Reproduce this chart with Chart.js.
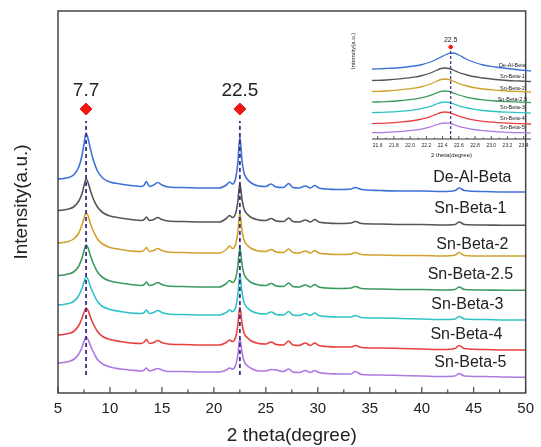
<!DOCTYPE html>
<html>
<head>
<meta charset="utf-8">
<script src="https://cdn.jsdelivr.net/npm/chart.js@4.4.1/dist/chart.umd.min.js"></script>
<style>
body { margin: 0; background: #fff; }
#wrap { position: relative; width: 541px; height: 447px; }
#chart { position: absolute; left: 0; top: 0; }
#inset { position: absolute; left: 340px; top: 0; }
</style>
</head>
<body>
<div id="wrap">
  <canvas id="chart" width="541" height="447"></canvas>
  <canvas id="inset" width="201" height="165"></canvas>
</div>
<script>
// 2 theta positions (degree)
const theta = [5, 5.5, 6, 6.5, 7, 7.3, 7.5, 7.7, 7.9, 8.1, 8.4, 8.8, 9.3, 10, 11, 12, 13, 13.3, 13.5, 13.8,
  14.2, 14.6, 15, 15.6, 17, 19, 20.5, 21.2, 21.5, 21.8, 22.1, 22.3, 22.5, 22.7, 22.9, 23.2, 23.6, 24.3, 25, 25.5,
  26, 26.7, 27.2, 27.6, 28.2, 28.8, 29.3, 29.7, 30.1, 30.8, 32, 33.2, 33.6, 34.2, 36, 38, 40, 42, 43.2, 43.6,
  44.1, 46, 48, 50];

// stacked intensities (a.u.)
const deAlBeta = [214, 214.5, 215.5, 218, 226, 237, 249, 260, 254, 245, 233, 222, 215, 211, 209, 207.5, 206.5, 208, 211.5, 206.5,
  208, 210.5, 208, 206, 205.5, 205, 205, 208, 211, 209, 215, 230, 256, 233, 220, 214, 210, 207, 206.5, 209,
  206, 205.5, 209.5, 205.5, 205, 207, 205, 207.5, 205, 204, 203.5, 204, 205.5, 203.5, 202.5, 202, 202, 201.5, 202.5, 205,
  202.5, 201.5, 201, 201];
const snBeta1 = [182.5, 183, 184, 186, 192, 199, 207, 214, 210, 203, 194, 186, 180.5, 177, 175, 173.5, 172.5, 173.5, 176, 172.5,
  173.5, 175.5, 173.5, 172, 171.5, 171, 171, 174.5, 177.5, 175.5, 180, 191, 210, 194, 184, 179, 175.5, 173, 172.5, 174.5,
  172, 171.5, 175, 171.5, 171, 173, 171, 173.5, 171, 170, 169.5, 170, 171.5, 169.5, 169, 168.5, 168.5, 168, 168.5, 171,
  168.5, 168, 167.7, 167.7];
const snBeta2 = [150, 150.5, 151.5, 154, 160, 168, 174.5, 180, 177, 170, 162, 154, 149, 145.5, 143.5, 142, 141.5, 143, 145.5, 141.5,
  142.5, 144.5, 142.5, 141, 140.5, 140, 140, 143.5, 147, 144.5, 149, 161, 180, 163, 153, 148, 144.5, 142, 141.5, 143.5,
  141, 140.5, 144, 140.5, 140, 142, 140, 142.5, 140, 139, 138.5, 139, 140.5, 138.5, 138, 137.5, 137.5, 137, 138, 140.5,
  137.5, 137, 137, 137];
const snBeta25 = [117.5, 118, 119, 121, 127, 134.5, 142, 148, 145, 138, 129.5, 121, 115.5, 112, 110, 108.5, 107.5, 108.5, 111, 107.5,
  108.5, 110.5, 108.5, 107, 106.5, 106, 106, 109.5, 112.5, 110.5, 115, 126.5, 146, 129, 119, 114, 110.5, 108, 107.5, 109.5,
  107, 106.5, 110, 106.5, 106, 108, 106, 108.5, 106, 105, 104.5, 105, 106.5, 104.5, 104, 103.5, 103.5, 103, 103.5, 106,
  103.5, 103, 102.7, 102.7];
const snBeta3 = [88, 88.5, 89.5, 91.5, 97.5, 104.5, 111, 116, 113.5, 107, 99.5, 91.5, 86.5, 83.5, 81.5, 80, 79.5, 80.5, 83, 79.5,
  80.5, 82.5, 80.5, 79, 78.5, 78, 78, 80.5, 83, 81.5, 86, 98, 118, 101, 90.5, 85.5, 82, 79.5, 79, 81,
  78.5, 78, 81.5, 78, 77.5, 79.5, 77.5, 80, 77.5, 76.5, 76, 76, 77.5, 75.5, 75, 74.5, 74, 73.5, 74, 76.5,
  74, 73.5, 73, 73];
const snBeta4 = [58, 58.5, 59.5, 61.5, 67.5, 74.5, 80.5, 85, 82.5, 76.5, 69, 61.5, 56.5, 53.5, 51.5, 50, 49.5, 51, 53.5, 49.5,
  50.5, 52.5, 50.5, 49, 48.5, 48, 48, 50.5, 53, 51.5, 56, 67.5, 86, 70, 60, 55.5, 52, 49.5, 49, 51,
  48.5, 48, 52, 48, 47.5, 50, 47.5, 50, 47.5, 46.5, 46, 46, 47.5, 45.5, 45, 44.5, 44, 43.5, 44.5, 47.5,
  44.5, 43.5, 43, 43];
const snBeta5 = [30, 30.5, 31.5, 33.5, 39, 45.5, 51.5, 56, 53.5, 48, 41, 33.5, 29, 26, 24, 23, 22, 23, 25, 22,
  23, 24.5, 23, 21.5, 21.5, 21, 21, 23, 25, 24, 28, 38, 55, 41, 32, 27.5, 24.5, 22, 22, 23.5,
  23, 21.5, 24, 21, 20.5, 22.5, 20.5, 22.5, 20.5, 19.5, 19, 19, 21.5, 18.5, 18, 17.5, 17, 16.5, 17, 19.5,
  17, 16.5, 16, 15.7];

const sampleNames = ['De-Al-Beta', 'Sn-Beta-1', 'Sn-Beta-2', 'Sn-Beta-2.5', 'Sn-Beta-3', 'Sn-Beta-4', 'Sn-Beta-5'];
const series = [deAlBeta, snBeta1, snBeta2, snBeta25, snBeta3, snBeta4, snBeta5];
const colors = ['#3f72d9', '#555555', '#cfa22e', '#3b9b5e', '#2fc3c8', '#e8403f', '#ad78df'];

const peakPositions = [7.7, 22.5];

// inset: zoom around the 22.5 reflection
const insetTheta = [21.53, 21.7, 21.9, 22.05, 22.15, 22.25, 22.32, 22.38, 22.43, 22.48, 22.53, 22.6, 22.68, 22.78, 22.9, 23.05, 23.2, 23.35, 23.49];
const insetDeAlBeta = [70, 70.5, 71.5, 73, 74.5, 77, 79.5, 82, 84, 85.7, 86, 84, 80.5, 77, 74, 72, 70.5, 69, 68];
const insetSnBeta1 = [58.5, 59, 60.3, 61.8, 63.5, 66, 68.5, 70.5, 71, 70.5, 69, 66.5, 64.5, 62.5, 61, 59.5, 58.5, 58, 57.5];
const insetSnBeta2 = [47.5, 48, 49.3, 50.8, 52.5, 55, 57.5, 59.5, 60, 59.5, 58, 55.5, 53.5, 51.5, 50, 48.8, 48, 47.5, 47];
const insetSnBeta25 = [36.9, 37.3, 38.5, 39.8, 41.3, 43.6, 45.8, 47.6, 48, 47.6, 46.2, 44, 42.2, 40.5, 39.1, 38, 37.3, 36.9, 36.4];
const insetSnBeta3 = [26.4, 26.8, 27.9, 29.2, 30.6, 32.7, 34.9, 36.5, 37, 36.5, 35.3, 33.2, 31.5, 29.8, 28.5, 27.5, 26.8, 26.4, 25.9];
const insetSnBeta4 = [15.4, 15.9, 17.1, 18.5, 20.1, 22.4, 24.7, 26.5, 27, 26.5, 25.1, 22.8, 21, 19.1, 17.7, 16.6, 15.9, 15.4, 15];
const insetSnBeta5 = [6.3, 6.7, 7.7, 8.9, 10.2, 12.1, 14.1, 15.6, 16, 15.8, 14.7, 12.7, 11.1, 9.5, 8.3, 7.3, 6.7, 6.3, 5.9];
const insetSeries = [insetDeAlBeta, insetSnBeta1, insetSnBeta2, insetSnBeta25, insetSnBeta3, insetSnBeta4, insetSnBeta5];
const insetTicks = [21.6, 21.8, 22.0, 22.2, 22.4, 22.6, 22.8, 23.0, 23.2, 23.4];

Chart.defaults.font.family = "'Liberation Sans', Arial, sans-serif";
Chart.defaults.color = '#222';

// box + inward ticks
function axisBox(o) {
  return {
    id: 'axisBox',
    afterDraw(c) {
      const { ctx, chartArea: a, scales: { x } } = c;
      ctx.save();
      ctx.strokeStyle = o.color;
      ctx.lineWidth = o.width;
      if (o.box) {
        ctx.strokeRect(a.left, a.top, a.right - a.left, a.bottom - a.top);
      } else {
        ctx.beginPath(); ctx.moveTo(a.left, a.bottom); ctx.lineTo(a.right, a.bottom); ctx.stroke();
      }
      ctx.lineWidth = o.tickWidth;
      for (let i = 0; o.start + i * o.minor <= o.end + 1e-9; i++) {
        const px = x.getPixelForValue(o.start + i * o.minor);
        const len = i % 2 === 0 ? o.majorLen : o.minorLen;
        ctx.beginPath(); ctx.moveTo(px, a.bottom); ctx.lineTo(px, a.bottom - len); ctx.stroke();
      }
      ctx.restore();
    }
  };
}

// text placed in data coordinates
function notes(items) {
  return {
    id: 'notes',
    afterDatasetsDraw(c) {
      const { ctx, scales: { x, y } } = c;
      ctx.save();
      ctx.textAlign = 'center';
      ctx.textBaseline = 'middle';
      items.forEach(t => {
        ctx.font = t.font;
        ctx.fillStyle = t.color || '#222';
        const px = x.getPixelForValue(t.x), py = y.getPixelForValue(t.y);
        if (t.rotate) {
          ctx.save(); ctx.translate(px, py); ctx.rotate(-Math.PI / 2); ctx.fillText(t.text, 0, 0); ctx.restore();
        } else {
          ctx.fillText(t.text, px, py);
        }
      });
      ctx.restore();
    }
  };
}

const mainLabels = [
  { text: 'De-Al-Beta', x: 44.87, y: 215 },
  { text: 'Sn-Beta-1', x: 44.68, y: 184 },
  { text: 'Sn-Beta-2', x: 44.87, y: 148 },
  { text: 'Sn-Beta-2.5', x: 44.68, y: 118 },
  { text: 'Sn-Beta-3', x: 44.39, y: 88 },
  { text: 'Sn-Beta-4', x: 44.3, y: 58 },
  { text: 'Sn-Beta-5', x: 44.68, y: 30 },
].map(t => ({ ...t, font: '16px "Liberation Sans", Arial' }))
  .concat(peakPositions.map(p => ({ text: String(p), x: p, y: 302, font: '19px "Liberation Sans", Arial' })));

new Chart(document.getElementById('chart'), {
  type: 'line',
  data: {
    datasets: series.map((vals, i) => ({
      label: sampleNames[i],
      data: theta.map((t, j) => ({ x: t, y: vals[j] })),
      borderColor: colors[i],
      borderWidth: 1.6,
      pointRadius: 0,
      cubicInterpolationMode: 'monotone',
      order: 2
    })).concat(peakPositions.map(p => ({
      data: [{ x: p, y: 18 }, { x: p, y: 272 }],
      borderColor: '#3d2e80',
      borderDash: [4, 3],
      borderWidth: 1.8,
      pointRadius: 0,
      order: 1
    })), [{
      data: peakPositions.map(p => ({ x: p, y: 284 })),
      showLine: false,
      pointStyle: 'rectRot',
      pointRadius: 6,
      backgroundColor: '#f01515',
      borderColor: '#f01515',
      order: 0
    }])
  },
  options: {
    responsive: false,
    animation: false,
    devicePixelRatio: 1,
    layout: { padding: { top: 11, right: 10, left: 0, bottom: 0 } },
    plugins: { legend: { display: false }, tooltip: { enabled: false } },
    scales: {
      x: {
        type: 'linear', min: 5, max: 50,
        ticks: { stepSize: 5, font: { size: 15 }, padding: 7 },
        grid: { display: false, drawTicks: false },
        border: { display: false },
        title: { display: true, text: '2 theta(degree)', font: { size: 19 }, padding: { top: 0, bottom: 0 } },
        afterFit: s => { s.height = 54; }
      },
      y: {
        min: 0, max: 382,
        ticks: { display: false },
        grid: { display: false, drawTicks: false },
        border: { display: false },
        title: { display: true, text: 'Intensity(a.u.)', font: { size: 19 }, padding: { top: 10, bottom: 0 } },
        afterFit: s => { s.width = 58; }
      }
    }
  },
  plugins: [
    axisBox({ box: true, color: '#444', width: 1.5, tickWidth: 1.2, start: 5, end: 50, minor: 2.5, majorLen: 6, minorLen: 3.5 }),
    notes(mainLabels)
  ]
});

const insetLabels = sampleNames.map((n, i) => ({
  text: n, x: 23.26, y: [74, 63, 51, 40, 32, 21, 12][i], font: '5.5px "Liberation Sans", Arial'
})).concat([
  { text: '22.5', x: 22.5, y: 99, font: '7px "Liberation Sans", Arial' },
  { text: 'Intensity(a.u.)', x: 21.3, y: 88, font: '6px "Liberation Sans", Arial', rotate: true }
]);

new Chart(document.getElementById('inset'), {
  type: 'line',
  data: {
    datasets: insetSeries.map((vals, i) => ({
      data: insetTheta.map((t, j) => ({ x: t, y: vals[j] })),
      borderColor: colors[i],
      borderWidth: 1.3,
      pointRadius: 0,
      cubicInterpolationMode: 'monotone',
      order: 2
    })).concat([{
      data: [{ x: 22.5, y: 0 }, { x: 22.5, y: 89 }],
      borderColor: '#3d2e80',
      borderDash: [3, 2],
      borderWidth: 1.2,
      pointRadius: 0,
      order: 1
    }, {
      data: [{ x: 22.5, y: 92 }],
      showLine: false,
      pointRadius: 1.8,
      backgroundColor: '#f01515',
      borderColor: '#f01515',
      order: 0
    }])
  },
  options: {
    responsive: false,
    animation: false,
    devicePixelRatio: 1,
    layout: { padding: { top: 40, right: 10, left: 32, bottom: 0 } },
    plugins: { legend: { display: false }, tooltip: { enabled: false } },
    scales: {
      x: {
        type: 'linear', min: 21.53, max: 23.49,
        afterBuildTicks: s => { s.ticks = insetTicks.map(v => ({ value: v })); },
        ticks: { font: { size: 5 }, padding: 4, autoSkip: false, maxRotation: 0, callback: v => v.toFixed(1) },
        grid: { display: false, drawTicks: false },
        border: { display: false },
        title: { display: true, text: '2 theta(degree)', font: { size: 6 }, padding: { top: 0, bottom: 6 } },
        afterFit: s => { s.height = 26; }
      },
      y: { display: false, min: 0, max: 99 }
    }
  },
  plugins: [
    axisBox({ box: false, color: '#333', width: 1, tickWidth: 0.8, start: 21.6, end: 23.4, minor: 0.1, majorLen: 3, minorLen: 1.5 }),
    notes(insetLabels)
  ]
});
</script>
</body>
</html>
